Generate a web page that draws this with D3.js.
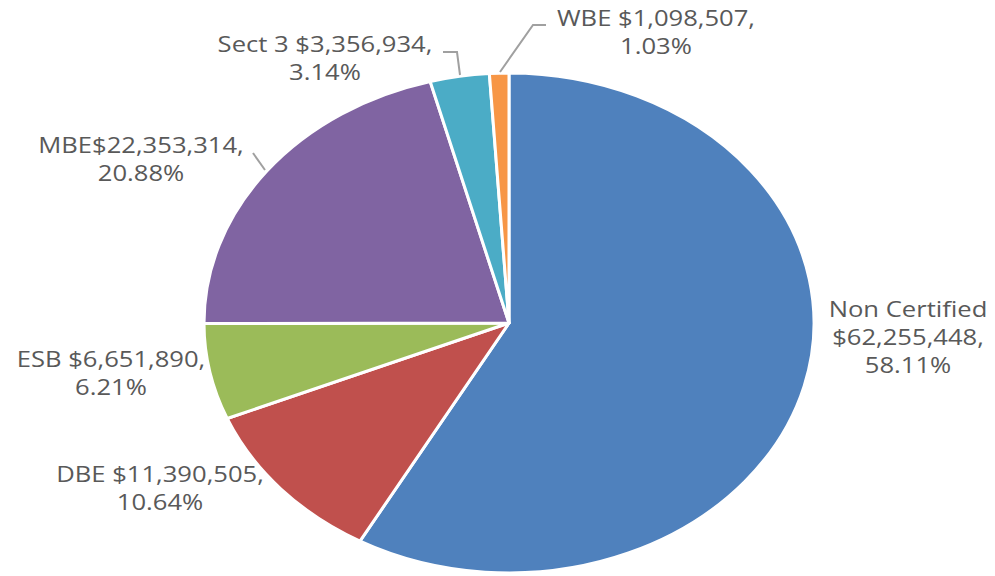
<!DOCTYPE html>
<html>
<head>
<meta charset="utf-8">
<script src="https://cdn.jsdelivr.net/npm/d3@7"></script>
<style>
  body { margin: 0; background: #fff; }
  svg { display: block; }
</style>
</head>
<body>
<script>
// data
var names = ["Non Certified", "DBE", "ESB", "MBE", "Sect 3", "WBE"];
var values = [62255448, 11390505, 6651890, 22353314, 3356934, 1098507];
var pcts = ["58.11%", "10.64%", "6.21%", "20.88%", "3.14%", "1.03%"];
var colors = ["#4F81BD", "#C0504D", "#9BBB59", "#8064A2", "#4BACC6", "#F79646"];

var width = 995, height = 576;
// the original picture is stretched sideways, so draw in a squeezed frame
var sx = 1.22;
var cx = 509, cy = 323, r = 250;

var fmt = d3.format("$,");

// label text lines (MBE had no space in the original)
var labelLines = names.map(function(n, i) {
  if (n == "Non Certified") return [n, fmt(values[i]) + ",", pcts[i]];
  var sep = n == "MBE" ? "" : " ";
  return [n + sep + fmt(values[i]) + ",", pcts[i]];
});

// where each label block sits (screen x of center, first baseline)
var labelPos = [
  {x: 908, y: 317},
  {x: 160, y: 482},
  {x: 111, y: 367},
  {x: 141, y: 153},
  {x: 325, y: 52},
  {x: 656, y: 26}
];

// leader lines, screen coords
var leaders = [
  null, null, null,
  [[253, 153], [265, 170]],
  [[443, 52], [457, 52], [460, 75]],
  [[500, 72], [533, 25], [546, 25]]
];

var svg = d3.select("body").append("svg")
  .attr("width", width)
  .attr("height", height);

var g = svg.append("g")
  .attr("transform", "scale(" + sx + ",1)");

var pie = d3.pie().sort(null).value(function(d) { return d; });
var arc = d3.arc().innerRadius(0).outerRadius(r);

var slices = g.append("g")
  .attr("transform", "translate(" + (cx / sx) + "," + cy + ")");

slices.selectAll("path")
  .data(pie(values))
  .enter()
  .append("path")
  .attr("d", arc)
  .attr("fill", function(d, i) { return colors[i]; })
  .attr("stroke", "#fff")
  .attr("stroke-width", 3)
  .attr("vector-effect", "non-scaling-stroke")
  .attr("stroke-linejoin", "round");

// leader lines
var line = d3.line()
  .x(function(p) { return p[0] / sx; })
  .y(function(p) { return p[1]; });

g.append("g").selectAll("path")
  .data(leaders.filter(function(d) { return d; }))
  .enter()
  .append("path")
  .attr("d", line)
  .attr("fill", "none")
  .attr("stroke", "#A0A0A0")
  .attr("stroke-width", 2)
  .attr("vector-effect", "non-scaling-stroke");

// labels
var lineH = 28;
var labels = g.append("g")
  .style("font-family", "'Open Sans', sans-serif")
  .style("font-size", "21px")
  .attr("fill", "#595959")
  .attr("text-anchor", "middle");

labelLines.forEach(function(lines, i) {
  var t = labels.append("text")
    .attr("x", labelPos[i].x / sx)
    .attr("y", labelPos[i].y);
  lines.forEach(function(s, k) {
    t.append("tspan")
      .attr("x", labelPos[i].x / sx)
      .attr("dy", k == 0 ? 0 : lineH)
      .text(s);
  });
});
</script>
</body>
</html>
